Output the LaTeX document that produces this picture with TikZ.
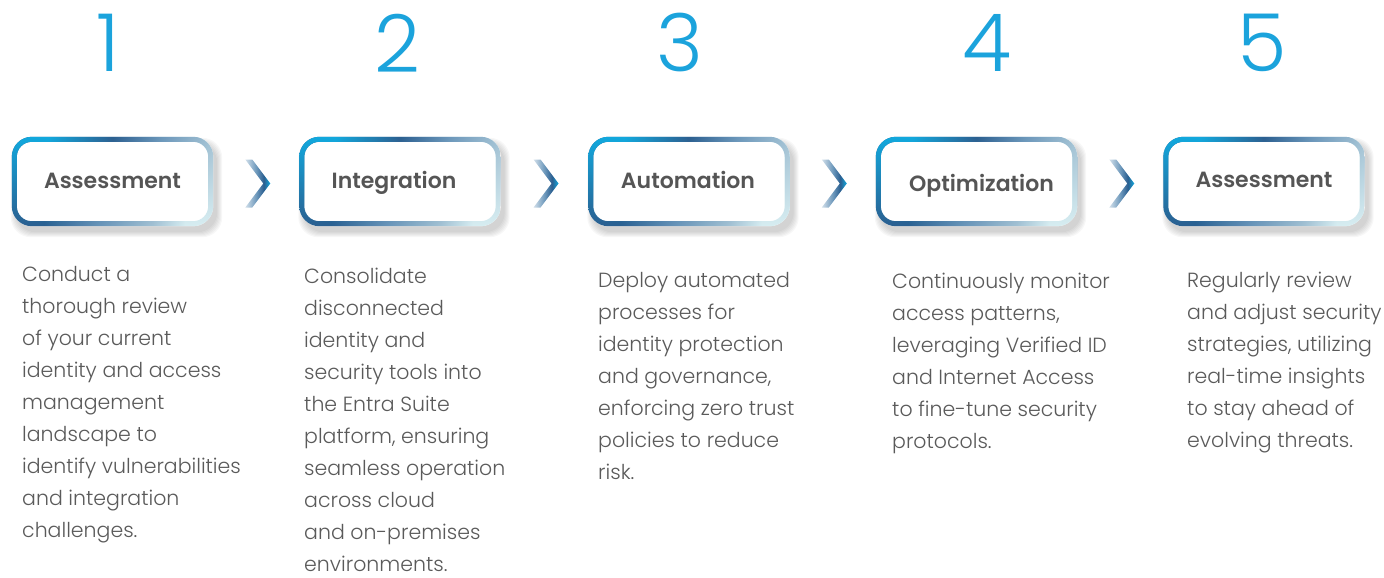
\documentclass[tikz,border=0pt]{standalone}
\usepackage{fontspec}
\setmainfont{Poppins Light}[BoldFont={Poppins SemiBold}]
\usetikzlibrary{positioning, calc, fadings}

\definecolor{stepblue}{HTML}{1BA3DC}
\definecolor{rimcyan}{HTML}{12A9DE}
\definecolor{rimdark}{HTML}{2B5F90}
\definecolor{rimsteel}{HTML}{6A96BA}
\definecolor{rimlight}{HTML}{A3C2D4}
\definecolor{rimpale}{HTML}{D8EEF2}
\definecolor{bodygray}{HTML}{5A5A5A}
\definecolor{labelgray}{HTML}{555555}

% rim of the step boxes: a lower colour run with an upper one faded in on top
\pgfdeclarehorizontalshading{rimbottom}{100bp}{color(0bp)=(rimdark); color(33bp)=(rimdark);
  color(47bp)=(rimsteel); color(60bp)=(rimlight); color(68bp)=(rimpale); color(100bp)=(rimpale)}
\pgfdeclarehorizontalshading{rimtop}{100bp}{color(0bp)=(rimcyan); color(34bp)=(rimcyan);
  color(50bp)=(rimdark); color(62bp)=(rimsteel); color(75bp)=(rimlight); color(100bp)=(rimlight)}
\pgfdeclarehorizontalshading{chevron}{100bp}{color(0bp)=(white); color(25bp)=(white!70!rimsteel);
  color(48bp)=(rimsteel); color(62bp)=(rimdark); color(75bp)=(rimcyan); color(100bp)=(rimcyan)}
\tikzfading[name=fade down, top color=transparent!0, bottom color=transparent!100]

\begin{document}
\begin{tikzpicture}[x=1pt, y=-1pt,
    stepframe/.style={minimum width=201pt, minimum height=89pt, inner sep=0pt},
    steplabel/.style={anchor=base, font=\bfseries\fontsize{22}{24}\selectfont, text=labelgray},
    stepnum/.style={font=\fontsize{80}{80}\selectfont, text=stepblue},
    stepdesc/.style={anchor=north west, align=left, inner sep=0pt,
        font=\fontsize{20.5}{32}\selectfont, text=bodygray}]

    \useasboundingbox (0,0) rectangle (1384,578);

    % numbered boxes
    \foreach \i/\bx/\nx/\lx/\ly/\lab in {1/112.5/108/0/188/Assessment, 2/400/397/-6/188/Integration,
        3/689/680/-1/188/Automation, 4/976.5/987/5/191/Optimization, 5/1264/1262/0/187/Assessment}
    {
        \node[stepframe] (box\i) at (\bx,181.5) {};
        \node[stepnum] (num\i) at (\nx,43) {\i};

        % soft shadow
        \foreach \k in {0,...,5}
        {
            \fill[black, opacity=0.03, rounded corners=20pt]
                ($(box\i.north west)+(4-\k,6-\k)$) rectangle ($(box\i.south east)+(4+\k,6+\k)$);
        }

        \fill[white, rounded corners=20pt] (box\i.north west) rectangle (box\i.south east);
        \foreach \rim/\fade in {rimbottom/, rimtop/{path fading=fade down}}
        {
            \shade[shading=\rim, even odd rule, style/.expand once=\fade]
                [rounded corners=20pt] (box\i.north west) rectangle (box\i.south east)
                [rounded corners=15pt] ($(box\i.north west)+(5,5)$) rectangle ($(box\i.south east)+(-5,-5)$);
        }

        \node[steplabel] (lab\i) at (\bx+\lx,\ly) {\lab};
    }

    % chevrons between the boxes
    \foreach \a/\b in {1/2,2/3,3/4,4/5}
    {
        \coordinate (chev\a) at ($(box\a.east)!0.5!(box\b.west)+(1,2)$);
        \shade[shading=chevron]
            ($(chev\a)+(-12,-24)$) -- ($(chev\a)+(-5,-24)$) -- ($(chev\a)+(13,0)$)
            -- ($(chev\a)+(-5,24)$) -- ($(chev\a)+(-12,24)$) -- ($(chev\a)+(6,0)$) -- cycle;
    }

    % descriptions
    \node[stepdesc] (desc1) at (22,266) {Conduct a\\thorough review\\of your current\\identity and access\\management\\landscape to\\identify vulnerabilities\\and integration\\challenges.};
    \node[stepdesc] (desc2) at (304,268) {Consolidate\\disconnected\\identity and\\security tools into\\the Entra Suite\\platform, ensuring\\seamless operation\\across cloud\\and on-premises\\environments.};
    \node[stepdesc] (desc3) at (598,272) {Deploy automated\\processes for\\identity protection\\and governance,\\enforcing zero trust\\policies to reduce\\risk.};
    \node[stepdesc] (desc4) at (892,273) {Continuously monitor\\access patterns,\\leveraging Verified ID\\and Internet Access\\to fine-tune security\\protocols.};
    \node[stepdesc] (desc5) at (1187,272) {Regularly review\\and adjust security\\strategies, utilizing\\real-time insights\\to stay ahead of\\evolving threats.};
\end{tikzpicture}
\end{document}
